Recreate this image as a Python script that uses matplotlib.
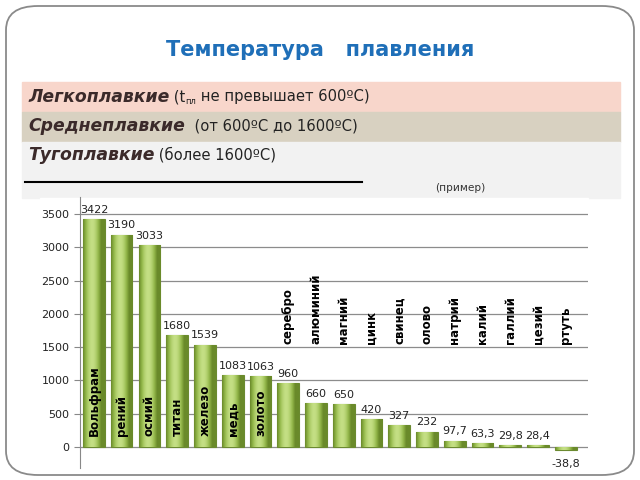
import numpy as np
import matplotlib
matplotlib.use("Agg")
import matplotlib.pyplot as plt
from matplotlib.patches import FancyBboxPatch, Rectangle

# melting points, deg C
metals = ["Вольфрам", "рений", "осмий", "титан", "железо", "медь", "золото",
          "серебро", "алюминий", "магний", "цинк", "свинец", "олово", "натрий",
          "калий", "галлий", "цезий", "ртуть"]
temps = [3422, 3190, 3033, 1680, 1539, 1083, 1063, 960, 660, 650, 420, 327,
         232, 97.7, 63.3, 29.8, 28.4, -38.8]
value_labels = ["3422", "3190", "3033", "1680", "1539", "1083", "1063", "960",
                "660", "650", "420", "327", "232", "97,7", "63,3", "29,8",
                "28,4", "-38,8"]
n_inside = 7  # names written inside the tall bars

W, H = 640, 480
fig = plt.figure(figsize=(6.4, 4.8), dpi=100)
fig.patch.set_facecolor("white")

def fx(px):
    return px / W

def fy(py):
    return 1 - py / H

# outer rounded frame
frame = FancyBboxPatch((fx(6), fy(475)), fx(628), (469) / H,
                       boxstyle="round,pad=0,rounding_size=0.05",
                       transform=fig.transFigure, fill=False,
                       edgecolor="#8a8a8a", lw=1.3)
fig.patches.append(frame)

fig.text(0.5, fy(50), "Температура   плавления", ha="center", va="center",
         fontsize=15, fontweight="bold", color="#1f6fb8")

# coloured bands
bands = [(82, 112, "#f8d6cb"), (112, 142, "#d8d1c1"), (142, 198, "#f2f2f2")]
for top, bot, col in bands:
    fig.patches.append(Rectangle((fx(22), fy(bot)), fx(598), (bot - top) / H,
                                 transform=fig.transFigure, color=col, zorder=0))

heads = [("Легкоплавкие", " (t", "пл", " не превышает 600ºC)", 97),
         ("Среднеплавкие", "  (от 600ºC до 1600ºC)", None, None, 126),
         ("Тугоплавкие", " (более 1600ºC)", None, None, 155)]

fig.canvas.draw()
r = fig.canvas.get_renderer()
for bold, rest, sub, rest2, yy in heads:
    t = fig.text(fx(28), fy(yy), bold, fontsize=12.4, fontweight="bold",
                 fontstyle="italic", color="#3b2a2a", va="center")
    bb = t.get_window_extent(r)
    t2 = fig.text(bb.x1 / W, fy(yy), rest, fontsize=10.6, color="#222222",
                  va="center")
    if sub:
        bb2 = t2.get_window_extent(r)
        t3 = fig.text(bb2.x1 / W, fy(yy + 4), sub, fontsize=6,
                      color="#222222", va="center")
        bb3 = t3.get_window_extent(r)
        fig.text(bb3.x1 / W, fy(yy), rest2, fontsize=10.6, color="#222222",
                 va="center")

fig.add_artist(plt.Line2D([fx(25), fx(362)], [fy(182), fy(182)],
                          transform=fig.transFigure, color="black", lw=1.5))
fig.text(fx(460), fy(188), "(пример)", fontsize=7.6, color="#333333",
         ha="center", va="center")

# white chart area
fig.patches.append(Rectangle((fx(40), fy(470)), fx(548), (470 - 198) / H,
                             transform=fig.transFigure, color="white", zorder=0.5))

ax = fig.add_axes([fx(80), fy(468), fx(508), (468 - 197) / H])
ax.set_zorder(2)
ax.set_facecolor("none")
x = np.arange(len(temps))
bars = ax.bar(x, temps, width=0.78, color="#9bbb59", edgecolor="#6b8a30",
              lw=0.8, zorder=3)

# shaded gradient across each bar
grad = np.linspace(0, 1, 64)
shade = 0.55 + 0.45 * np.sin(np.pi * np.clip(grad * 1.2, 0, 1))
cmap = matplotlib.colors.LinearSegmentedColormap.from_list(
    "g", ["#6a8a2a", "#95b94c", "#c4df84"])
img = shade[np.newaxis, :]
for b in bars:
    y0, y1 = sorted([0, b.get_height()])
    im = ax.imshow(img, extent=[b.get_x(), b.get_x() + b.get_width(), y0, y1],
                   aspect="auto", cmap=cmap, vmin=0.55, vmax=1.0, zorder=3.5,
                   origin="lower")
    im.set_clip_path(b)

for i, (v, lab) in enumerate(zip(temps, value_labels)):
    if v >= 0:
        ax.annotate(lab, (x[i], v), xytext=(0, 3), textcoords="offset points",
                    ha="center", va="bottom", fontsize=8, color="#222222")
    else:
        ax.annotate(lab, (x[i], v), xytext=(0, -7), textcoords="offset points",
                    ha="center", va="top", fontsize=8, color="#222222")

for i, name in enumerate(metals):
    ypos = 160 if i < n_inside else 1540
    ax.text(x[i], ypos, name, rotation=90, ha="center", va="bottom",
            fontsize=8.5, fontweight="bold", color="black", zorder=5)

ax.set_xlim(-0.5, 17.8)
ax.set_ylim(-315, 3755)
ax.set_yticks(np.arange(0, 3501, 500))
ax.tick_params(axis="y", labelsize=8, colors="#222222", length=4,
               color="#888888")
ax.set_xticks([])
ax.grid(axis="y", color="#8c8c8c", lw=0.9, zorder=1)
for s in ["top", "right", "bottom"]:
    ax.spines[s].set_visible(False)
ax.spines["left"].set_color("#888888")

fig.savefig("out.png", dpi=100)
